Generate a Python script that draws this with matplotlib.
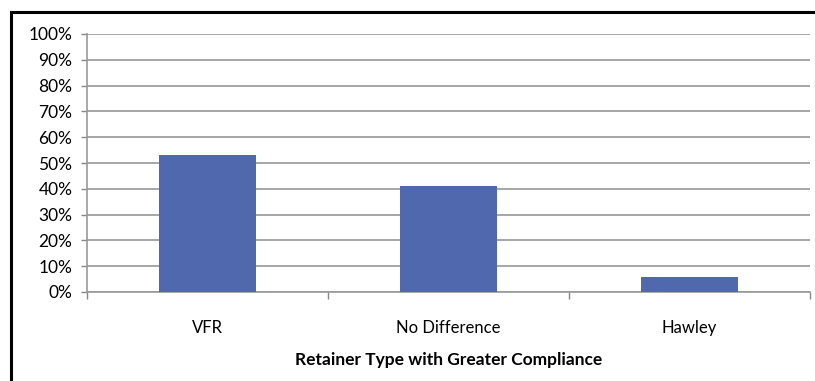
import numpy as np
import matplotlib.pyplot as plt
from matplotlib.lines import Line2D
from matplotlib.ticker import FuncFormatter

categories = ['VFR', 'No Difference', 'Hawley']
shares = [53, 41, 6]
y_ticks = list(range(0, 101, 10))

plt.rcParams['font.family'] = ['Lato', 'DejaVu Sans']

W, H = 815, 381
fig = plt.figure(figsize=(W / 100, H / 100), dpi=100)
ax = fig.add_axes([87 / W, 1 - 292 / H, (810 - 87) / W, (292 - 34) / H])

x = np.arange(len(categories))
ax.bar(x, shares, width=0.4, color='#5068ae', zorder=3)

ax.set_xlim(-0.5, len(categories) - 0.5)
ax.set_ylim(0, 100)
ax.set_yticks(y_ticks)
ax.yaxis.set_major_formatter(FuncFormatter(lambda v, p: f'{v:.0f}%'))
ax.tick_params(axis='y', length=4.5, width=1, color='#888888', labelsize=12.5, pad=6)
ax.grid(axis='y', color='#a6a6a6', linewidth=1.4, zorder=0)

ax.set_xticks(x)
ax.set_xticklabels(categories, fontsize=12)
ax.tick_params(axis='x', length=0, pad=20)
ax.set_xticks(np.arange(-0.5, len(categories)), minor=True)
ax.tick_params(axis='x', which='minor', length=5, width=1, color='#888888')

for s in ['top', 'right']:
    ax.spines[s].set_visible(False)
for s in ['left', 'bottom']:
    ax.spines[s].set_color('#999999')
    ax.spines[s].set_linewidth(1.2)

ax.set_xlabel('Retainer Type with Greater Compliance', fontsize=12.5,
              fontweight='bold', labelpad=12)

# frame lines of the original figure box
fig.add_artist(Line2D([11 / W, 11 / W], [0, 1 - 12 / H], color='black', linewidth=2.2))
fig.add_artist(Line2D([11 / W, 1], [1 - 12 / H, 1 - 12 / H], color='black', linewidth=2.2))

fig.savefig('out.png', dpi=100)
